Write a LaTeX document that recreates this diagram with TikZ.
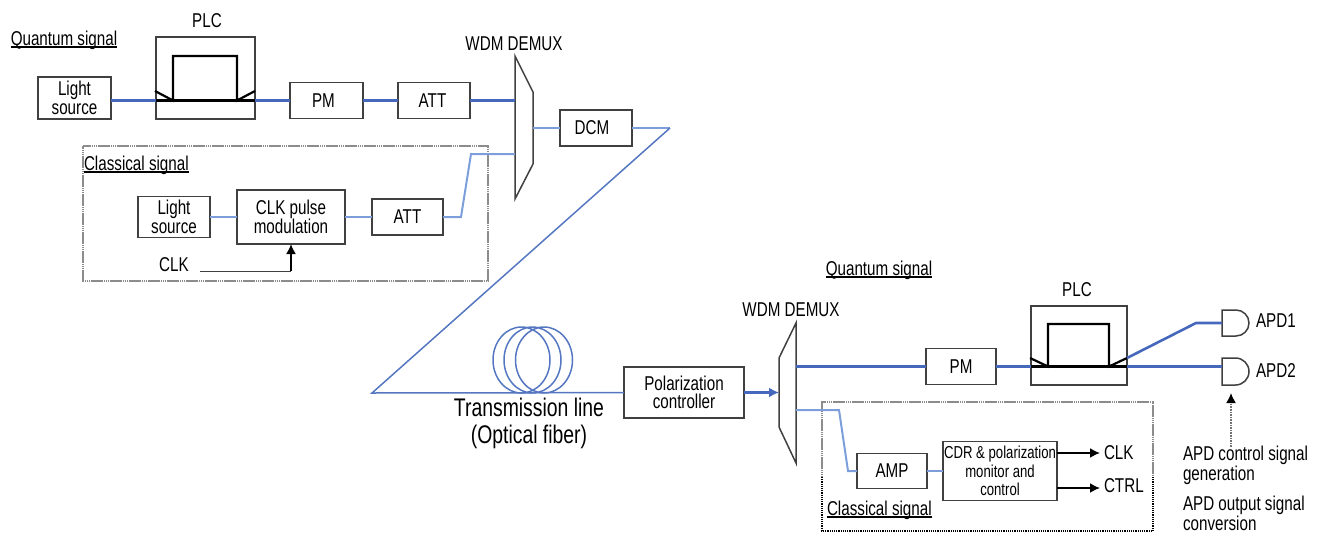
\documentclass[tikz,border=0pt]{standalone}
\usepackage{fontspec}
\setmainfont{Liberation Sans}[FakeStretch=0.76]
\usetikzlibrary{arrows.meta,positioning}

\definecolor{quantblue}{HTML}{4668BC}
\definecolor{classblue}{HTML}{7C9FDB}
\definecolor{fiberblue}{HTML}{5577C2}

\newcommand{\undertext}[1]{\setbox0=\hbox{#1}\rlap{\rule[-2.5pt]{\wd0}{1.5pt}}\box0}

\tikzset{
  every node/.style={inner sep=0pt,outer sep=0pt,font=\fontsize{20pt}{18.5pt}\selectfont},
  box/.style={draw=black!75,line width=1.5pt,align=center},
  label/.style={align=center},
  quant/.style={quantblue,line width=2.6pt},
  class/.style={classblue,line width=2pt},
  fiber/.style={fiberblue,line width=1.5pt},
  guide/.style={black,line width=2.2pt},
  demux/.style={draw=black!75,line width=1.5pt,line join=miter},
  frame/.style={black!45,dash pattern=on 1.5pt off 0.4pt,line width=2.2pt},
  framelow/.style={black,densely dotted,line width=1.2pt},
  signal/.style={black,line width=1.7pt},
}

\begin{document}
\begin{tikzpicture}[x=1pt,y=-1pt,node distance=100pt,on grid,>={Latex[length=10pt,width=10pt]}]
   \useasboundingbox (0,0) rectangle (1322,533);

   % transmitter
   \node[label] (qlaba) at (64,40) {\undertext{Quantum signal}};
   \node[box,minimum width=73pt,minimum height=42pt] (lsa) at (74.5,98) {Light\\source};
   \node[box,minimum width=99pt,minimum height=82pt] (plca) at (205.5,78) {};
   \node[label] (plclaba) at (207,21) {PLC};
   \node[box,minimum width=73pt,minimum height=36pt] (pma) at (326.5,100.5) {PM\hspace*{6pt}};
   \node[box,minimum width=72pt,minimum height=36pt] (atta) [right=107.5pt of pma] {ATT\hspace*{3pt}};
   \node[label] (muxlaba) at (514,44) {WDM DEMUX};
   \node[box,minimum width=72pt,minimum height=36pt] (dcm) at (596,128) {DCM\hspace*{8pt}};
   \coordinate (plcal) at (156,100.5);
   \coordinate (plcar) at (255,100.5);
   \coordinate (muxaq) at (515,100.5);
   \coordinate (muxac) at (515,154);
   \coordinate (muxad) at (533,128);
   \coordinate (turna) at (670,128);
   \coordinate (turnb) at (372,393);

   \node[label,anchor=west] (clabela) at (84,165) {\undertext{Classical signal}};
   \node[box,minimum width=108pt,minimum height=54pt] (pulse) at (291,217) {CLK pulse\\modulation};
   \node[box,minimum width=72pt,minimum height=41pt] (lsb) [left=117pt of pulse] {Light\\source};
   \node[box,minimum width=71pt,minimum height=36pt] (attb) [right=116.5pt of pulse] {ATT};
   \node[label] (clka) at (174,265) {CLK};
   \coordinate (clkc) at (291,271);
   \coordinate (clkd) at (200,271);
   \coordinate (attup) at (461,217);
   \coordinate (attuq) at (471,154);

   % fiber
   \node[label,font=\fontsize{25.5pt}{27pt}\selectfont] (line) at (529,423) {Transmission line\\(Optical fiber)};
   \node[box,minimum width=120pt,minimum height=51pt] (polar) at (684,392.5) {Polarization\\controller};

   % receiver
   \node[label] (qlabb) at (879,270) {\undertext{Quantum signal}};
   \node[label] (muxlabb) at (791,310) {WDM DEMUX};
   \coordinate (muxbi) at (779,392.5);
   \coordinate (muxbq) at (796,366.5);
   \coordinate (muxbc) at (796,410);
   \node[box,minimum width=70pt,minimum height=36pt] (pmb) at (961,366.5) {PM};
   \node[box,minimum width=96pt,minimum height=79pt] (plcb) at (1079,345.5) {};
   \node[label] (plclabb) at (1077,290) {PLC};
   \coordinate (plcbl) at (1031,366.5);
   \coordinate (plcbr) at (1127,366.5);
   \coordinate (plcbu) at (1127,358);
   \coordinate (apdbend) at (1196,323);
   \coordinate (apda) at (1222,323);
   \coordinate (apdb) at (1222,366.5);
   \node[label,anchor=west] (apdlaba) at (1256,321) {APD1};
   \node[label,anchor=west] (apdlabb) at (1256,371) {APD2};

   \node[label,anchor=west] (clabelb) at (827,510) {\undertext{Classical signal}};
   \node[box,minimum width=70pt,minimum height=35pt] (amp) at (892,471) {AMP};
   \node[box,minimum width=114pt,minimum height=59pt,font=\fontsize{17.3pt}{18.5pt}\selectfont] (cdr) at (1000,471) {CDR \& polarization\\monitor and\\control};
   \node[label,anchor=west] (clkb) at (1104,453) {CLK};
   \node[label,anchor=west] (ctrl) at (1104,486) {CTRL};
   \coordinate (ctrlc) at (1104,488);
   \coordinate (ampup) at (839,410);
   \coordinate (ampuq) at (848,471);
   \node[label,anchor=west,align=left,font=\fontsize{20pt}{20pt}\selectfont] (apdctl) at (1183,465) {APD control signal\\generation};
   \node[label,anchor=west,align=left,font=\fontsize{20pt}{20pt}\selectfont] (apdout) at (1183,513.5) {APD output signal\\conversion};
   \coordinate (apdsrc) at (1231,447);
   \coordinate (apdtip) at (1231,393);

   % frames of the classical parts
   \draw[frame] (83,146) rectangle (488,281);
   \draw[frame] (822,477) -- (822,402) -- (1153,402) -- (1153,477);
   \draw[framelow] (822,477) -- (822,531) -- (1153,531) -- (1153,477);

   % demultiplexers
   \draw[demux] (515,56) -- (533,92) -- (533,164) -- (515,199) -- cycle;
   \draw[demux] (796,323) -- (779,358) -- (779,427) -- (796,463) -- cycle;

   % waveguides
   \draw[guide] (plcal) -- (plcar);
   \draw[guide] (155,91) -- (173,100.5) -- (173,56) -- (237,56) -- (237,100.5) -- (255,91);
   \draw[guide] (plcbl) -- (plcbr);
   \draw[guide] (1030,358) -- (1048,366.5) -- (1048,324) -- (1109,324) -- (1109,366.5) -- (1127,358);

   % detectors
   \draw[box] (apda) ++(0,-13) -- ++(14,0) arc[start angle=90,end angle=-90,radius=13pt] -- ++(-14,0) -- cycle;
   \draw[box] (apdb) ++(0,-8.5) -- ++(13.5,0) arc[start angle=90,end angle=-90,radius=13.5pt] -- ++(-13.5,0) -- cycle;

   % fiber spool
   \foreach \x in {521.5,532.5,544}
     \draw[fiber] (\x,360) ellipse [x radius=28.5,y radius=33];

   \path[quant]
    (lsa.east |- plcal) edge (plcal)
    (plcar) edge (pma)
    (pma) edge (atta)
    (atta) edge (muxaq)
    (muxbq) edge (pmb)
    (pmb) edge (plcbl)
    (plcbr) edge (apdb)
    ;
   \path[class]
    (muxad) edge (dcm)
    (lsb) edge (pulse)
    (pulse) edge (attb)
    (amp) edge (cdr)
    ;
   \draw[class] (dcm) -- (turna);
   \draw[class] (attb) -- (attup) -- (attuq) -- (muxac);
   \draw[class] (muxbc) -- (ampup) -- (ampuq) -- (amp);
   \draw[fiber] (turna) -- (turnb) -- (polar);
   \draw[quant,line join=round] (plcbu) -- (apdbend) -- (apda);
   \draw[quant,->] (polar) -- (muxbi);

   % clock and control signals
   \draw[black!75,line width=1pt] (clkd) -- (clkc);
   \draw[signal,->] (clkc) -- (pulse);
   \draw[signal,->,shorten >=4pt] (cdr.east |- clkb) -- (clkb);
   \draw[signal,->,shorten >=4pt] (cdr.east |- ctrlc) -- (ctrlc);
   \draw[black!55,densely dotted,line width=1.6pt,-{Latex[length=10pt,width=10pt,black]}] (apdsrc) -- (apdtip);
\end{tikzpicture}
\end{document}
